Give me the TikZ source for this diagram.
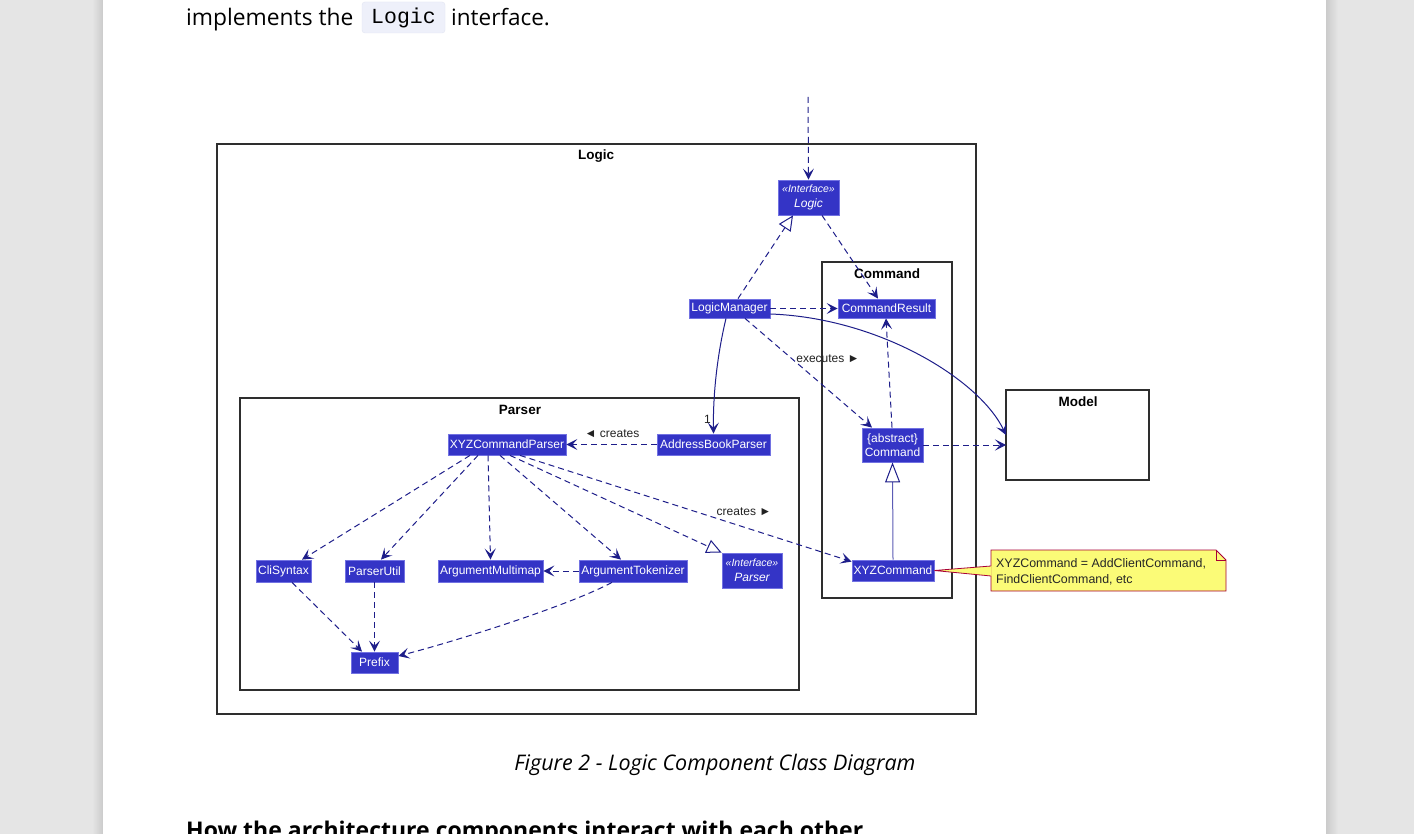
\documentclass[tikz,border=0pt]{standalone}
\usepackage{fontspec}
\setmainfont{Liberation Sans}
\newfontfamily\pagefont{Open Sans}
\newfontfamily\codefont{Liberation Mono}
\usetikzlibrary{arrows.meta}
\definecolor{clsfill}{HTML}{3434C6}
\definecolor{clsdraw}{HTML}{7272E2}
\definecolor{edgecol}{HTML}{1E1E8A}
\definecolor{genline}{HTML}{5B5BB5}
\definecolor{pkgdraw}{HTML}{2E2E2E}
\definecolor{notefill}{HTML}{FBFB77}
\definecolor{notedraw}{HTML}{A80036}
\definecolor{pagebg}{HTML}{E5E5E5}
\definecolor{pageshade}{HTML}{CBCBCB}
\definecolor{codebg}{HTML}{EEF0FA}
\definecolor{codedraw}{HTML}{E2E5F3}
\definecolor{lblcol}{HTML}{222222}
\begin{document}
\begin{tikzpicture}[x=1pt,y=-1pt,
  cls/.style={draw=clsdraw, line width=0.8pt, fill=clsfill, text=white,
    font=\fontsize{12}{13}\selectfont, inner sep=0pt, align=center},
  pkg/.style={draw=pkgdraw, line width=1.4pt, fill=white},
  pkgtitle/.style={font=\bfseries\fontsize{13.5}{15}\selectfont, anchor=center},
  dep/.style={draw=edgecol, line width=1pt, dash pattern=on 6pt off 4pt,
    -{Stealth[length=11pt,width=11pt,inset=5pt]}},
  assoc/.style={draw=edgecol, line width=1pt,
    -{Stealth[length=11pt,width=11pt,inset=5pt]}},
  realiz/.style={draw=edgecol, line width=1pt, dash pattern=on 6pt off 4pt,
    -{Triangle[open,fill=white,length=15pt,width=14pt]}},
  gener/.style={draw=genline, line width=1pt,
    -{Triangle[open,fill=white,color=edgecol,length=20pt,width=15pt]}},
  lbl/.style={font=\fontsize{12}{13}\selectfont, text=lblcol, inner sep=0pt},
  notetext/.style={font=\fontsize{12.4}{16}\selectfont, text=black!85, align=left, inner sep=0pt, anchor=north west}
]
\useasboundingbox (0,0) rectangle (1414,834);
\clip (0,0) rectangle (1414,834);
% page
\fill[pagebg] (0,0) rectangle (1414,834);
\shade[left color=pagebg, right color=pageshade] (92,0) rectangle (103,834);
\shade[left color=pageshade, right color=pagebg] (1326,0) rectangle (1338,834);
\fill[white] (103,0) rectangle (1326,834);

% top text
\node[font=\pagefont\fontsize{22.8}{26}\selectfont, anchor=base west, inner sep=0pt] (txtA) at (186,26) {implements the};
\node[draw=codedraw, fill=codebg, rounded corners=3pt, minimum width=83pt, minimum height=31pt, inner sep=0pt,
      font=\codefont\fontsize{21.5}{23}\selectfont] (code) at (403.5,17.5) {Logic};
\node[font=\pagefont\fontsize{22.5}{26}\selectfont, anchor=base west, inner sep=0pt] (txtB) at (451,26) {interface.};

% packages
\draw[pkg] (217,144) rectangle (976,714);
\node[pkgtitle] (logicT) at (596,156) {Logic};
\draw[pkg] (822,262) rectangle (952,598);
\node[pkgtitle] (cmdT) at (887,274) {Command};
\draw[pkg] (240,398) rectangle (799,690);
\node[pkgtitle] (parserT) at (520,410) {Parser};
\draw[pkg] (1006,390) rectangle (1149,480);
\node[pkgtitle] (modelT) at (1078,402) {Model};
\coordinate (model) at (1006,435);

% classes
\node[cls, minimum width=61pt, minimum height=35pt] (ilogic) at (808.5,197.5)
  {{\itshape\fontsize{10.5}{12}\selectfont «Interface»}\\[1.5pt]{\itshape Logic}};
\node[cls, minimum width=97pt, minimum height=19pt] (cmdresult) at (886.5,308.5) {CommandResult};
\node[cls, minimum width=81pt, minimum height=19pt] (logicmgr) at (729.5,308.5) {LogicManager};
\node[cls, minimum width=118pt, minimum height=21pt] (xyzparser) at (507,444.5) {XYZCommandParser};
\node[cls, minimum width=113pt, minimum height=21pt] (abparser) at (713.5,444.5) {AddressBookParser};
\node[cls, minimum width=61pt, minimum height=34pt] (command) at (892.5,445) {\{abstract\}\\[1pt]Command};
\node[cls, minimum width=55pt, minimum height=22pt] (clisyntax) at (283.5,571) {CliSyntax};
\node[cls, minimum width=59pt, minimum height=22pt] (parserutil) at (374.5,571) {ParserUtil};
\node[cls, minimum width=105pt, minimum height=22pt] (argmm) at (490.5,571) {ArgumentMultimap};
\node[cls, minimum width=108pt, minimum height=22pt] (argtok) at (633,571) {ArgumentTokenizer};
\node[cls, minimum width=60pt, minimum height=35pt] (iparser) at (752,570.5)
  {{\itshape\fontsize{10.5}{12}\selectfont «Interface»}\\[1.5pt]{\itshape Parser}};
\node[cls, minimum width=82pt, minimum height=21pt] (xyzcmd) at (893,570.5) {XYZCommand};
\node[cls, minimum width=47pt, minimum height=21pt] (prefix) at (374.5,662.5) {Prefix};

% note
\coordinate (noteNW) at (991,550);
\coordinate (noteSE) at (1226,591);
\draw[draw=notedraw, fill=notefill, line width=0.8pt]
  (noteNW) -- (1216,550) -- (1226,560) -- (noteSE) -- (991,591) -- cycle;
\draw[draw=notedraw, line width=0.8pt] (1216,550) -- (1216,560) -- (1226,560);
\fill[notefill] (xyzcmd.east) -- (991.6,566) -- (991.6,576) -- cycle;
\draw[draw=notedraw, line width=0.8pt] (991,566) -- (xyzcmd.east) -- (991,576);
\node[notetext] (note) at (996,558) {XYZCommand = AddClientCommand,\\FindClientCommand, etc};

% edges
\coordinate (topin) at (808,97);
\draw[dep] (topin) -- (ilogic.north);
\draw[realiz] ([xshift=8.5pt]logicmgr.north) -- ([xshift=-15.5pt]ilogic.south);
\draw[dep] ([xshift=13.5pt]ilogic.south) -- ([xshift=-8.5pt]cmdresult.north);
\draw[dep] (logicmgr.east) -- (cmdresult.west);
\draw[assoc] ([xshift=-3.5pt]logicmgr.south) .. controls (716,360) and (713,400) .. (abparser.north);
\node[lbl, anchor=east] (one) at (711,419) {1};
\draw[assoc] ([yshift=-5.5pt]logicmgr.east) .. controls (880,318) and (980,380) .. (model);
\draw[dep] ([xshift=15.5pt]logicmgr.south) -- ([xshift=-20.5pt]command.north);
\node[lbl] (execL) at (828,359) {executes ►};
\draw[dep] ([xshift=-0.5pt]command.north) -- ([xshift=-0.5pt]cmdresult.south);
\draw[dep] (command.east) -- ([yshift=-10pt]model);
\draw[gener] (xyzcmd.north) -- (command.south);
\draw[dep] (abparser.west) -- (xyzparser.east);
\node[lbl] (createsA) at (612,434) {◄ creates};
\draw[dep] ([xshift=-37pt]xyzparser.south) -- ([xshift=18.5pt]clisyntax.north);
\draw[dep] ([xshift=-29pt]xyzparser.south) -- ([xshift=6.5pt]parserutil.north);
\draw[dep] ([xshift=-19pt]xyzparser.south) -- (argmm.north);
\draw[dep] ([xshift=-7pt]xyzparser.south) -- ([xshift=-12pt]argtok.north);
\draw[realiz] ([xshift=3pt]xyzparser.south) -- (iparser.north west);
\draw[dep] ([xshift=13pt]xyzparser.south) -- ([yshift=-2pt]xyzcmd.north west);
\node[lbl] (createsB) at (744,512) {creates ►};
\draw[dep] (argtok.west) -- (argmm.east);
\draw[dep] ([xshift=8.5pt]clisyntax.south) -- ([xshift=-12.5pt]prefix.north);
\draw[dep] (parserutil.south) -- (prefix.north);
\draw[dep] ([xshift=-21pt]argtok.south) .. controls (570,605) and (460,640) .. ([yshift=6.5pt]prefix.east);

% caption and heading
\node[font=\pagefont\itshape\fontsize{21.5}{25}\selectfont, anchor=base, inner sep=0pt] (caption) at (715,770)
  {Figure 2 - Logic Component Class Diagram};
\node[font=\pagefont\bfseries\fontsize{23}{27}\selectfont, anchor=base west, inner sep=0pt] (heading) at (186,838)
  {How the architecture components interact with each other};
\end{tikzpicture}
\end{document}
